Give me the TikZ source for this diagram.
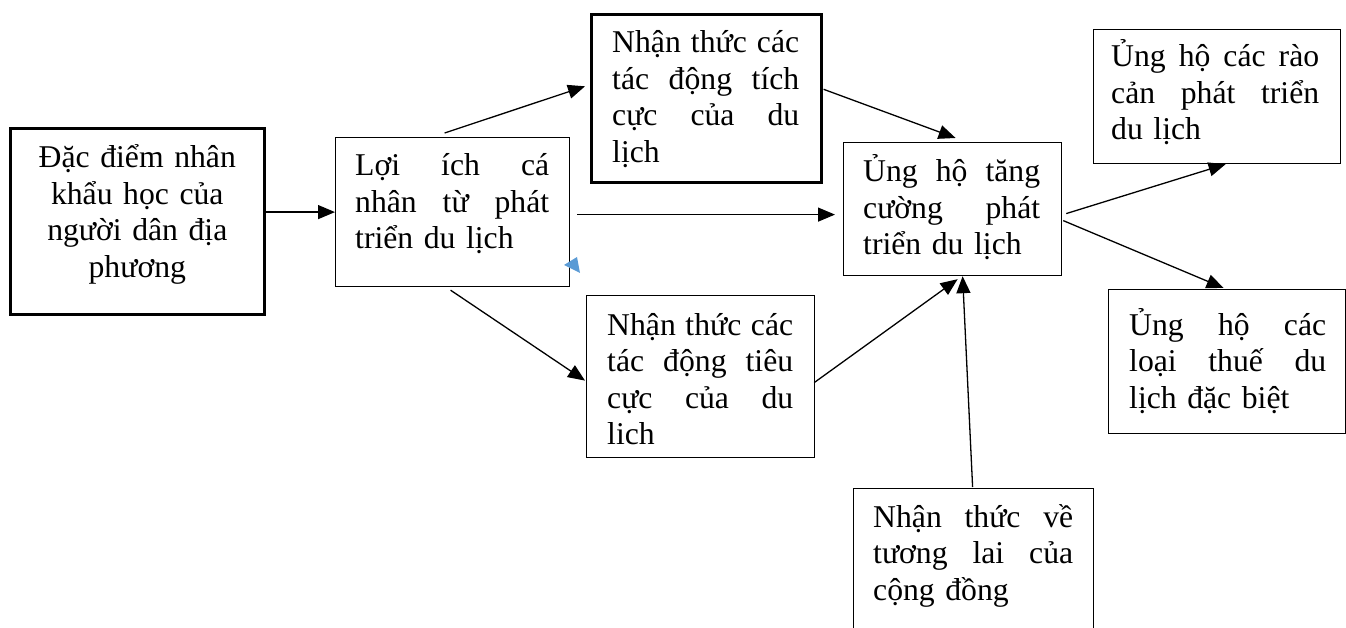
\documentclass[tikz,border=0pt]{standalone}
\usepackage{fontspec}
\setmainfont{Liberation Serif}
\usetikzlibrary{arrows.meta}
\definecolor{tblue}{RGB}{91,155,213}
\tikzset{
  box/.style={draw, rectangle, line width=1.2pt, inner sep=0pt, anchor=north west},
  thickbox/.style={box, line width=2.6pt},
  txt/.style={anchor=base west, inner sep=0pt, align=left, font=\fontsize{31.7}{36.5}\selectfont},
  arr/.style={line width=1.3pt, -{Triangle[length=17pt,width=14pt]}}
}
\begin{document}
\begin{tikzpicture}[x=1pt,y=-1pt]
\useasboundingbox (0,0) rectangle (1346,628);
\clip (0,0) rectangle (1346,628);
% boxes
\node[thickbox, minimum width=254pt, minimum height=186pt] (b1) at (9,127) {};
\node[box, minimum width=234pt, minimum height=149pt] (b2) at (335,137) {};
\node[thickbox, minimum width=230pt, minimum height=168pt] (b3) at (590,13) {};
\node[box, minimum width=218pt, minimum height=133pt] (b4) at (843,142) {};
\node[box, minimum width=247pt, minimum height=134pt] (b5) at (1093,29) {};
\node[box, minimum width=237pt, minimum height=144pt] (b6) at (1108,289) {};
\node[box, minimum width=228pt, minimum height=162pt] (b7) at (586,295) {};
\node[box, minimum width=240pt, minimum height=170pt] (b8) at (853,488) {};
% texts
\node[txt, anchor=base, align=center, text width=250pt] (t1) at ([shift={(0,41)}]b1.north) {Đặc điểm nhân\\khẩu học của\\người dân địa\\phương};
\node[txt, text width=194pt] (t2) at ([shift={(20,39)}]b2.north west) {Lợi\hfill ích\hfill cá\\nhân\hfill từ\hfill phát\\triển du lịch};
\node[txt, text width=187pt] (t3) at ([shift={(22,40)}]b3.north west) {Nhận\hfill thức\hfill các\\tác\hfill động\hfill tích\\cực\hfill của\hfill du\\lịch};
\node[txt, text width=177pt] (t4) at ([shift={(20,40)}]b4.north west) {Ủng\hfill hộ\hfill tăng\\cường\hfill phát\\triển du lịch};
\node[txt, text width=208pt] (t5) at ([shift={(18,38)}]b5.north west) {Ủng\hfill hộ\hfill các\hfill rào\\cản\hfill phát\hfill triển\\du lịch};
\node[txt, text width=197pt] (t6) at ([shift={(21,46)}]b6.north west) {Ủng\hfill hộ\hfill các\\loại\hfill thuế\hfill du\\lịch đặc biệt};
\node[txt, text width=186pt] (t7) at ([shift={(21,40)}]b7.north west) {Nhận\hfill thức\hfill các\\tác\hfill động\hfill tiêu\\cực\hfill của\hfill du\\lich};
\node[txt, text width=200pt] (t8) at ([shift={(20,39)}]b8.north west) {Nhận\hfill thức\hfill về\\tương\hfill lai\hfill của\\cộng đồng};
% arrows
\draw[arr] (b1.east |- b2.west) -- (b2.west);
\draw[arr] ([shift={(-8,-4)}]b2.north) -- ([shift={(-5,-12)}]b3.west);
\draw[arr] ([shift={(7,2.5)}]b2.east) -- ([shift={(-8,5.5)}]b4.west);
\draw[arr] ([shift={(1,-9)}]b3.east) -- ([shift={(3,-4)}]b4.north);
\draw[arr] ([shift={(-2,3)}]b2.south) -- ([shift={(-1,4)}]b7.west);
\draw[arr] ([shift={(-1,6)}]b7.east) -- ([shift={(5,3)}]b4.south);
\draw[arr] ([shift={(-1,-1)}]b8.north) -- ([shift={(10,0)}]b4.south);
\draw[arr] ([shift={(4,4.5)}]b4.east) -- ([shift={(8.5,0)}]b5.south);
\draw[arr] ([shift={(1,11.5)}]b4.east) -- ([shift={(-3.5,-1)}]b6.north);
% small blue marker
\fill[tblue] (564,265) -- (577,257) -- (580,273) -- cycle;
\end{tikzpicture}
\end{document}
